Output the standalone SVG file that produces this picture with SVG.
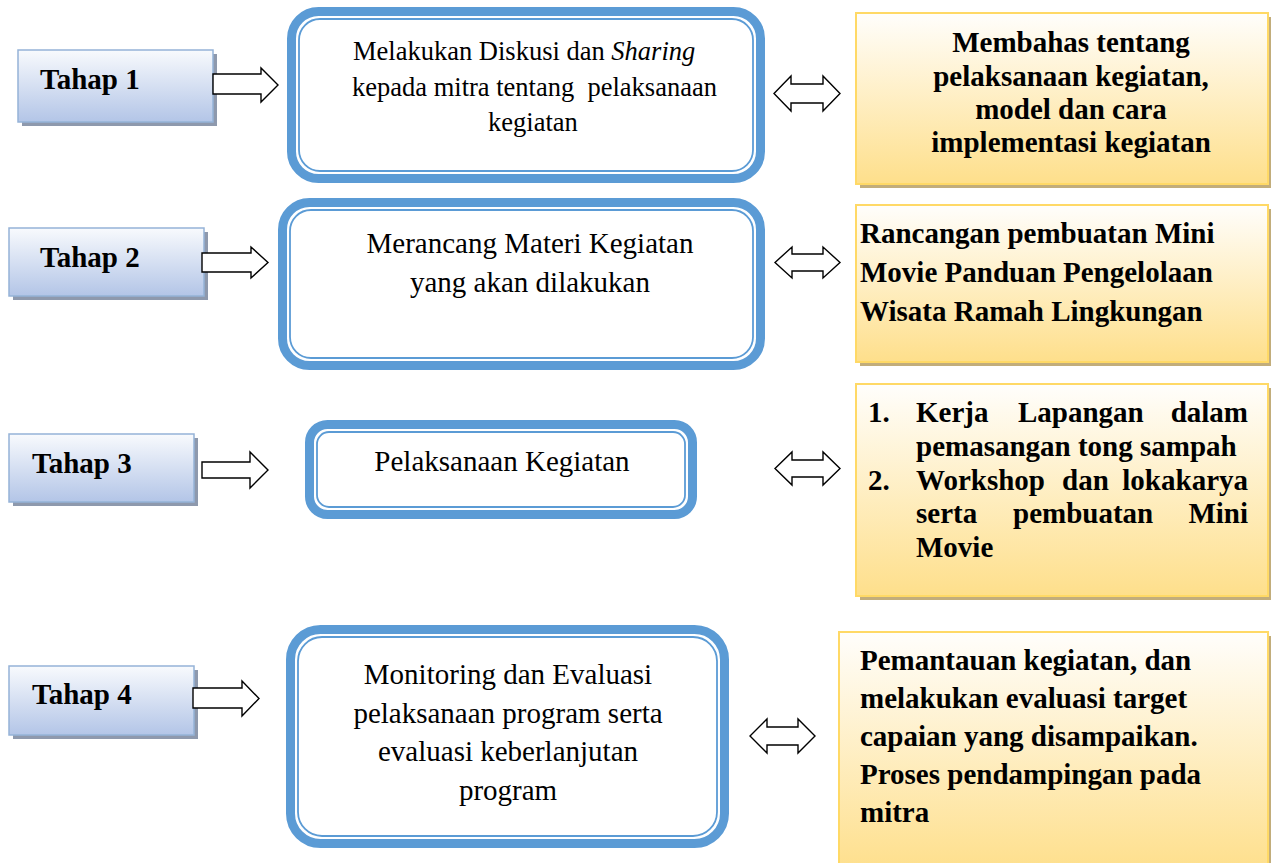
<svg xmlns="http://www.w3.org/2000/svg" width="1271" height="863" viewBox="0 0 1271 863">
<defs>
<linearGradient id="gBlue" x1="0" y1="0" x2="0" y2="1">
<stop offset="0" stop-color="#f8fafd"/>
<stop offset="1" stop-color="#b3c5e7"/>
</linearGradient>
<linearGradient id="gYel" x1="0" y1="0" x2="0" y2="1">
<stop offset="0" stop-color="#fffefc"/>
<stop offset="1" stop-color="#fedf8b"/>
</linearGradient>
<style>
.tahap{fill:url(#gBlue);stroke:#95b3d7;stroke-width:1.5}
.tsh{fill:#8e99ad}
.ysh{fill:#c2ad7b}
.yel{fill:url(#gYel);stroke:#ffd966;stroke-width:2}
.outer{fill:#fff;stroke:#5b9bd5;stroke-width:9}
.inner{fill:none;stroke:#5b9bd5;stroke-width:1.8}
.arr{fill:#fff;stroke:#000;stroke-width:1.4;stroke-linejoin:miter}
.tb{font-family:"Liberation Serif",serif;font-weight:bold;font-size:29px;fill:#000}
.tr{font-family:"Liberation Serif",serif;font-size:29px;fill:#000}
.tr1{font-family:"Liberation Serif",serif;font-size:26.5px;fill:#000;white-space:pre}
</style>
</defs>
<rect width="1271" height="863" fill="#fff"/>

<g id="tahap1">
<rect class="tsh" x="22" y="54" width="195" height="72"/>
<rect class="tahap" x="18" y="50" width="195" height="72"/>
<text class="tb" x="40" y="89">Tahap 1</text>
</g>
<g id="tahap2">
<rect class="tsh" x="13" y="232" width="195" height="68"/>
<rect class="tahap" x="9" y="228" width="195" height="68"/>
<text class="tb" x="40" y="267">Tahap 2</text>
</g>
<g id="tahap3">
<rect class="tsh" x="13" y="438" width="185" height="68"/>
<rect class="tahap" x="9" y="434" width="185" height="68"/>
<text class="tb" x="32" y="473">Tahap 3</text>
</g>
<g id="tahap4">
<rect class="tsh" x="13" y="670" width="185" height="69"/>
<rect class="tahap" x="9" y="666" width="185" height="69"/>
<text class="tb" x="32" y="704">Tahap 4</text>
</g>

<g id="step1">
<rect class="outer" x="291.5" y="11.5" width="469" height="167" rx="27"/>
<rect class="inner" x="299" y="19" width="454" height="152" rx="21"/>
<text class="tr1" x="353" y="60">Melakukan Diskusi dan <tspan font-style="italic">Sharing</tspan></text>
<text class="tr1" x="352" y="96">kepada mitra tentang  pelaksanaan</text>
<text class="tr1" x="533" y="131" text-anchor="middle">kegiatan</text>
</g>
<g id="step2">
<rect class="outer" x="282.5" y="202.5" width="478" height="163" rx="27"/>
<rect class="inner" x="290" y="210" width="463" height="148" rx="21"/>
<text class="tr" x="530" y="253" text-anchor="middle">Merancang Materi Kegiatan</text>
<text class="tr" x="530" y="292" text-anchor="middle">yang akan dilakukan</text>
</g>
<g id="step3">
<rect class="outer" x="309.5" y="424.5" width="383" height="90" rx="18"/>
<rect class="inner" x="317" y="432" width="368" height="75" rx="12"/>
<text class="tr" x="502" y="471" text-anchor="middle">Pelaksanaan Kegiatan</text>
</g>
<g id="step4">
<rect class="outer" x="290.5" y="629.5" width="434" height="214" rx="30"/>
<rect class="inner" x="298" y="637" width="419" height="199" rx="24"/>
<text class="tr" x="508" y="684" text-anchor="middle">Monitoring dan Evaluasi</text>
<text class="tr" x="508" y="723" text-anchor="middle">pelaksanaan program serta</text>
<text class="tr" x="508" y="761" text-anchor="middle">evaluasi keberlanjutan</text>
<text class="tr" x="508" y="800" text-anchor="middle">program</text>
</g>

<g id="result1">
<rect class="ysh" x="860" y="17" width="412" height="171"/>
<rect class="yel" x="856" y="13" width="412" height="171"/>
<text class="tb" x="1071" y="52" text-anchor="middle">Membahas tentang</text>
<text class="tb" x="1071" y="86" text-anchor="middle">pelaksanaan kegiatan,</text>
<text class="tb" x="1071" y="119" text-anchor="middle">model dan cara</text>
<text class="tb" x="1071" y="152" text-anchor="middle">implementasi kegiatan</text>
</g>
<g id="result2">
<rect class="ysh" x="860" y="209" width="412" height="157"/>
<rect class="yel" x="856" y="205" width="412" height="157"/>
<text class="tb" x="860" y="243">Rancangan pembuatan Mini</text>
<text class="tb" x="860" y="282">Movie Panduan Pengelolaan</text>
<text class="tb" x="860" y="321">Wisata Ramah Lingkungan</text>
</g>
<g id="result3">
<rect class="ysh" x="860" y="388" width="412" height="212"/>
<rect class="yel" x="856" y="384" width="412" height="212"/>
<text class="tb" x="868" y="422">1.</text>
<text class="tb" x="916" y="422">Kerja</text>
<text class="tb" x="1018" y="422">Lapangan</text>
<text class="tb" x="1248" y="422" text-anchor="end">dalam</text>
<text class="tb" x="916" y="456">pemasangan tong sampah</text>
<text class="tb" x="868" y="490">2.</text>
<text class="tb" x="916" y="490">Workshop</text>
<text class="tb" x="1062" y="490">dan</text>
<text class="tb" x="1248" y="490" text-anchor="end">lokakarya</text>
<text class="tb" x="916" y="523">serta</text>
<text class="tb" x="1013" y="523">pembuatan</text>
<text class="tb" x="1248" y="523" text-anchor="end">Mini</text>
<text class="tb" x="916" y="557">Movie</text>
</g>
<g id="result4">
<rect class="ysh" x="843" y="636" width="429" height="240"/>
<rect class="yel" x="839" y="632" width="429" height="240"/>
<text class="tb" x="860" y="670">Pemantauan kegiatan, dan</text>
<text class="tb" x="860" y="708">melakukan evaluasi target</text>
<text class="tb" x="860" y="746">capaian yang disampaikan.</text>
<text class="tb" x="860" y="784">Proses pendampingan pada</text>
<text class="tb" x="860" y="822">mitra</text>
</g>

<g id="connectors">
<polygon class="arr" points="213,74 261,74 261,68 278,85 261,102 261,94 213,94"/>
<polygon class="arr" points="202,253 251,253 251,247 268,262.5 251,278 251,272 202,272"/>
<polygon class="arr" points="202,462 250,462 250,452 268,470 250,488 250,478 202,478"/>
<polygon class="arr" points="193,688 242,688 242,681 259,698.5 242,716 242,708 193,708"/>
<polygon class="arr" points="774,93.5 791,76 791,84 823,84 823,76 840,93.5 823,111 823,103 791,103 791,111"/>
<polygon class="arr" points="775,262.5 792,247 792,254 823,254 823,247 840,262.5 823,278 823,271 792,271 792,278"/>
<polygon class="arr" points="775,468.5 792,452 792,460 823,460 823,452 840,468.5 823,485 823,477 792,477 792,485"/>
<polygon class="arr" points="750,736 767,719 767,727 798,727 798,719 815,736 798,753 798,745 767,745 767,753"/>
</g>
</svg>
